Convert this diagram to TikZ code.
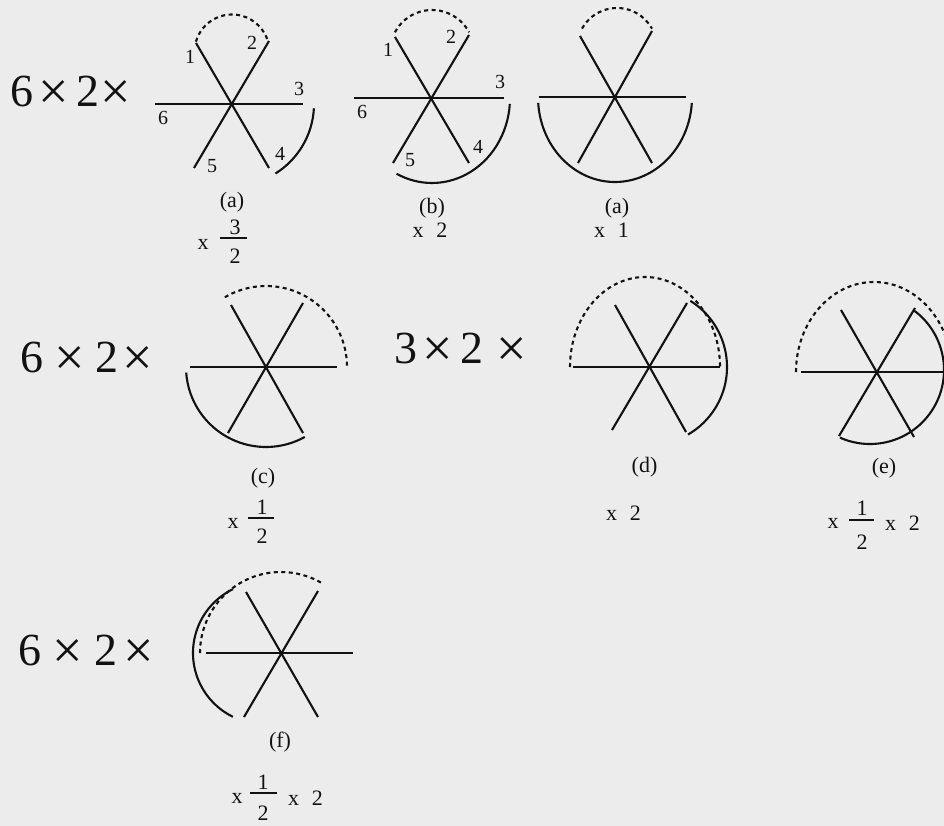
\documentclass[tikz,border=0pt]{standalone}
\usepackage{fontspec}
\setmainfont{Liberation Serif}
\definecolor{ink}{RGB}{18,18,18}
\definecolor{paper}{RGB}{236,236,236}
\begin{document}
\begin{tikzpicture}[x=1pt,y=-1pt,
  ln/.style={line width=2.1pt, draw=ink},
  dsh/.style={line width=2.1pt, draw=ink, dash pattern=on 4pt off 3.5pt},
  big/.style={font=\fontsize{46}{50}\selectfont, anchor=base, inner sep=0pt, text=ink},
  bigx/.style={font=\fontsize{54}{60}\selectfont, anchor=base, inner sep=0pt, text=ink, yshift=-3pt},
  lab/.style={font=\fontsize{22}{24}\selectfont, inner sep=0pt, text=ink},
  num/.style={font=\fontsize{20}{22}\selectfont, inner sep=0pt, text=ink},
  fbar/.style={line width=1.3pt, draw=ink}]
\path[use as bounding box, fill=paper] (0,0) rectangle (944,826);
\clip (0,0) rectangle (944,826);

% ---------- row 1 prefix ----------
\node[big]  (r1a) at (21.5,107) {6};
\node[bigx] (r1b) at (53.5,107) {×};
\node[big]  (r1c) at (87.5,107) {2};
\node[bigx] (r1d) at (116,107) {×};

% ---------- diagram (a) first ----------
\coordinate (ca) at (232,104);
\draw[ln] (155,104) -- (303,104);
\draw[ln] (196,43) -- (269,168);
\draw[ln] (269,41) -- (194,168);
\draw[dsh] (232,52) ++(164:37.5pt) arc[start angle=164, end angle=17, radius=37.5pt];
\draw[ln] (ca) ++(-3:82pt) arc[start angle=-3, end angle=-58, radius=82pt];
\node[num] (a1) at (190,57) {1};
\node[num] (a2) at (252,43) {2};
\node[num] (a3) at (299,89) {3};
\node[num] (a4) at (280,154) {4};
\node[num] (a5) at (212,166) {5};
\node[num] (a6) at (163,118) {6};
\node[lab] (alab) at (232,202) {(a)};
\node[lab] (ax) at (203,244) {x};
\node[lab] (anum) at (235,227) {3};
\node[lab] (aden) at (235,256) {2};
\draw[fbar] (220,238) -- (247,238);

% ---------- diagram (b) ----------
\coordinate (cb) at (432,98);
\draw[ln] (354,98) -- (504,98);
\draw[ln] (395,37) -- (469,163);
\draw[ln] (469,35) -- (393,163);
\draw[dsh] (432,52) ++(152:42pt) arc[start angle=152, end angle=28, radius=42pt];
\draw[ln] (cb) ++(77.81pt,-5.93pt) arc[start angle=-4, end angle=-117, x radius=78pt, y radius=85pt];
\node[num] (b1) at (388,50) {1};
\node[num] (b2) at (451,37) {2};
\node[num] (b3) at (500,82) {3};
\node[num] (b4) at (478,147) {4};
\node[num] (b5) at (410,160) {5};
\node[num] (b6) at (362,112) {6};
\node[lab] (blab) at (432,208) {(b)};
\node[lab] (bx) at (430,230) {x\hspace{13pt}2};

% ---------- diagram (a) second ----------
\coordinate (cc) at (615,97);
\draw[ln] (539,97) -- (686,97);
\draw[ln] (580,36) -- (652,163);
\draw[ln] (652,31) -- (578,163);
\draw[dsh] (617,48) ++(151:40pt) arc[start angle=151, end angle=29, radius=40pt];
\draw[ln] (cc) ++(-76.81pt,-5.93pt) arc[start angle=184, end angle=356, x radius=77pt, y radius=85pt];
\node[lab] (a2lab) at (617,208) {(a)};
\node[lab] (a2x) at (611.5,230) {x\hspace{13pt}1};

% ---------- row 2 prefix ----------
\node[big]  (r2a) at (31.5,372) {6};
\node[bigx] (r2b) at (69.5,372) {×};
\node[big]  (r2c) at (106.5,372) {2};
\node[bigx] (r2d) at (137.5,372) {×};

% ---------- diagram (c) ----------
\coordinate (cd) at (266,367);
\draw[ln] (190,367) -- (337,367);
\draw[ln] (231,305) -- (303,433);
\draw[ln] (303,303) -- (228,433);
\draw[dsh] (cd) ++(1:81pt) arc[start angle=1, end angle=122, radius=81pt];
\draw[ln] (cd) ++(184:80pt) arc[start angle=184, end angle=299, radius=80pt];
\node[lab] (clab) at (263,478) {(c)};
\node[lab] (cx) at (233,523) {x};
\node[lab] (cnum) at (262,507.5) {1};
\node[lab] (cden) at (262,536) {2};
\draw[fbar] (248,518) -- (274,518);

% ---------- 3x2x prefix ----------
\node[big]  (r2e) at (406,363) {3};
\node[bigx] (r2f) at (437.5,363) {×};
\node[big]  (r2g) at (471.5,363) {2};
\node[bigx] (r2h) at (512,363) {×};

% ---------- diagram (d) ----------
\coordinate (ce) at (649,367);
\draw[ln] (573,367) -- (720,367);
\draw[ln] (615,305) -- (686,432);
\draw[ln] (687,303) -- (612,430);
\draw[dsh] (570,367) arc[start angle=180, end angle=0, x radius=75pt, y radius=90pt];
\draw[ln] (ce) ++(58:78pt) arc[start angle=58, end angle=-60, radius=78pt];
\node[lab] (dlab) at (644.5,467) {(d)};
\node[lab] (dx) at (623.5,513) {x\hspace{13pt}2};

% ---------- diagram (e) ----------
\coordinate (cf) at (877,372);
\coordinate (cfs) at (870,370);
\draw[ln] (801,372) -- (960,372);
\draw[ln] (841,310) -- (914,437);
\draw[ln] (915,308) -- (839,436);
\draw[dsh] (796,372) arc[start angle=180, end angle=0, x radius=78pt, y radius=90pt];
\draw[ln] (cfs) ++(54:74pt) arc[start angle=54, end angle=-114, radius=74pt];
\node[lab] (elab) at (884,468) {(e)};
\node[lab] (ex) at (833,523) {x};
\node[lab] (enum) at (862,508) {1};
\node[lab] (eden) at (862,542) {2};
\draw[fbar] (849,520) -- (874,520);
\node[lab] (ex2) at (902.5,523) {x\hspace{13pt}2};

% ---------- row 3 prefix ----------
\node[big]  (r3a) at (30,665) {6};
\node[bigx] (r3b) at (67.5,665) {×};
\node[big]  (r3c) at (106,665) {2};
\node[bigx] (r3d) at (139,665) {×};

% ---------- diagram (f) ----------
\coordinate (cg) at (281,653);
\coordinate (cgs) at (264,653);
\draw[ln] (206,653) -- (353,653);
\draw[ln] (246,592) -- (318,717);
\draw[ln] (318,591) -- (244,717);
\draw[dsh] (cg) ++(180:81pt) arc[start angle=180, end angle=58, radius=81pt];
\draw[ln] (cgs) ++(116:71pt) arc[start angle=116, end angle=244, radius=71pt];
\node[lab] (flab) at (280,742) {(f)};
\node[lab] (fx) at (237,798) {x};
\node[lab] (fnum) at (263,782) {1};
\node[lab] (fden) at (263,813) {2};
\draw[fbar] (250,793) -- (277,793);
\node[lab] (fx2) at (305.5,798) {x\hspace{13pt}2};
\end{tikzpicture}
\end{document}
